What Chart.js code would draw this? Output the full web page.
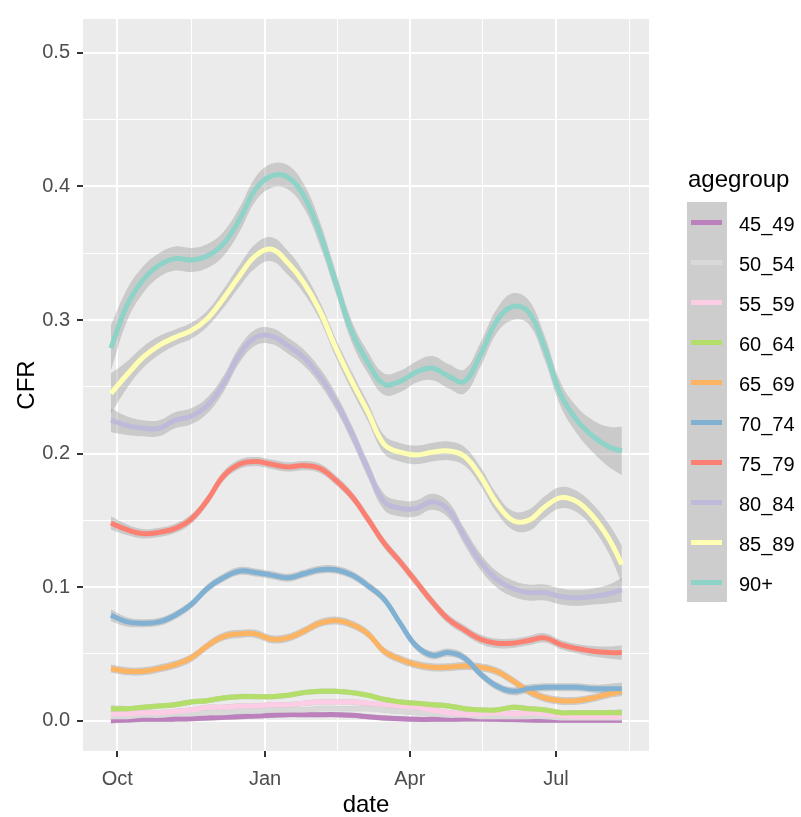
<!DOCTYPE html>
<html>
<head>
<meta charset="utf-8">
<script src="https://cdn.jsdelivr.net/npm/chart.js@4.4.0/dist/chart.umd.min.js"></script>
<style>
  body { margin: 0; background: #fff; font-family: "Liberation Sans", Arial, sans-serif; }
  #wrap { position: relative; width: 801px; height: 817px; }
  #legend .ttl { position: absolute; left: 688px; top: 167px; font-size: 24px; line-height: 24px; color: #000; }
  #legend .keys { position: absolute; left: 687px; top: 202px; width: 40px; height: 400px; background: #CDCDCD; }
  #legend .row { position: absolute; left: 0; width: 801px; height: 40px; }
  #legend .key { position: absolute; left: 691px; top: 17.5px; width: 31px; height: 5px; }
  #legend .lab { position: absolute; left: 739px; top: 1.5px; font-size: 20px; line-height: 40px; color: #000; }
</style>
</head>
<body>
<div id="wrap">
  <canvas id="chart" width="801" height="817"></canvas>
  <div id="legend"></div>
</div>
<script>
// sample dates of the smoothed curves
const dates = ['2020-09-27', '2020-10-07', '2020-10-17', '2020-10-27', '2020-11-06', '2020-11-16',
  '2020-11-26', '2020-12-06', '2020-12-16', '2020-12-26', '2021-01-05', '2021-01-15', '2021-01-25',
  '2021-02-04', '2021-02-14', '2021-02-24', '2021-03-06', '2021-03-16', '2021-03-26', '2021-04-05',
  '2021-04-15', '2021-04-25', '2021-05-05', '2021-05-15', '2021-05-25', '2021-06-04', '2021-06-14',
  '2021-06-24', '2021-07-04', '2021-07-14', '2021-07-24', '2021-08-03', '2021-08-11']

const groups = ['45_49', '50_54', '55_59', '60_64', '65_69', '70_74', '75_79', '80_84', '85_89', '90+']
const colors = ['#BC80BD', '#D9D9D9', '#FCCDE5', '#B3DE69', '#FDB462', '#80B1D3', '#FB8072', '#BEBADA', '#FFFFB3', '#8DD3C7']

const cfr45_49 = [0.000, 0.0005, 0.001, 0.001, 0.0012, 0.0015, 0.002, 0.0025, 0.003, 0.0035, 0.004, 0.0045, 0.0045,
  0.0045, 0.0045, 0.004, 0.003, 0.002, 0.0015, 0.001, 0.001, 0.001, 0.0012, 0.0012, 0.001, 0.0008, 0.0005,
  0.0003, 0.0003, 0.0003, 0.0003, 0.0003, 0.0003]
const cfr50_54 = [0.003, 0.003, 0.004, 0.004, 0.005, 0.005, 0.006, 0.006, 0.007, 0.007, 0.008, 0.008, 0.008,
  0.009, 0.009, 0.009, 0.009, 0.008, 0.007, 0.006, 0.005, 0.004, 0.004, 0.003, 0.003, 0.003, 0.003,
  0.003, 0.002, 0.002, 0.002, 0.002, 0.002]
const cfr55_59 = [0.005, 0.005, 0.006, 0.006, 0.007, 0.008, 0.010, 0.010, 0.011, 0.011, 0.012, 0.012, 0.013,
  0.014, 0.014, 0.014, 0.013, 0.012, 0.011, 0.010, 0.008, 0.006, 0.005, 0.005, 0.006, 0.005, 0.006,
  0.005, 0.004, 0.003, 0.003, 0.003, 0.003]
const cfr60_64 = [0.009, 0.009, 0.010, 0.011, 0.012, 0.014, 0.015, 0.017, 0.018, 0.018, 0.018, 0.019, 0.021,
  0.022, 0.022, 0.021, 0.019, 0.016, 0.014, 0.013, 0.012, 0.011, 0.009, 0.008, 0.008, 0.010, 0.009,
  0.008, 0.006, 0.006, 0.006, 0.006, 0.006]
const cfr65_69 = [0.039, 0.037, 0.037, 0.039, 0.042, 0.047, 0.056, 0.063, 0.065, 0.065, 0.061, 0.062, 0.067,
  0.073, 0.075, 0.072, 0.065, 0.052, 0.046, 0.042, 0.040, 0.040, 0.041, 0.040, 0.037, 0.030, 0.022,
  0.017, 0.015, 0.015, 0.017, 0.020, 0.022]
const cfr70_74 = [0.079, 0.074, 0.073, 0.074, 0.079, 0.087, 0.099, 0.107, 0.112, 0.111, 0.109, 0.107, 0.110,
  0.113, 0.113, 0.109, 0.101, 0.091, 0.073, 0.056, 0.049, 0.051, 0.047, 0.035, 0.026, 0.022, 0.024,
  0.025, 0.025, 0.025, 0.024, 0.024, 0.024]
const cfr75_79 = [0.148, 0.143, 0.140, 0.141, 0.144, 0.151, 0.165, 0.183, 0.192, 0.194, 0.192, 0.190, 0.191,
  0.189, 0.180, 0.168, 0.151, 0.133, 0.119, 0.104, 0.089, 0.076, 0.068, 0.061, 0.058, 0.058, 0.060,
  0.062, 0.057, 0.054, 0.052, 0.051, 0.051]
const cfr80_84 = [0.225, 0.221, 0.219, 0.219, 0.225, 0.228, 0.236, 0.252, 0.274, 0.287, 0.288, 0.281, 0.272,
  0.258, 0.239, 0.215, 0.188, 0.164, 0.159, 0.159, 0.164, 0.158, 0.138, 0.119, 0.106, 0.099, 0.096,
  0.096, 0.093, 0.092, 0.093, 0.095, 0.098]
const cfr85_89 = [0.245, 0.259, 0.272, 0.281, 0.287, 0.292, 0.301, 0.316, 0.333, 0.348, 0.353, 0.343, 0.328,
  0.307, 0.279, 0.254, 0.231, 0.207, 0.201, 0.199, 0.201, 0.202, 0.198, 0.183, 0.163, 0.150, 0.150,
  0.160, 0.167, 0.164, 0.153, 0.136, 0.117]
const cfr90 = [0.279, 0.311, 0.330, 0.341, 0.346, 0.345, 0.348, 0.357, 0.375, 0.398, 0.408, 0.407, 0.393,
  0.365, 0.328, 0.291, 0.268, 0.252, 0.254, 0.261, 0.264, 0.258, 0.254, 0.274, 0.299, 0.310, 0.306,
  0.279, 0.244, 0.225, 0.213, 0.205, 0.202]

// half widths of the grey confidence bands
const se45_49 = [0.002, 0.002, 0.002, 0.002, 0.002, 0.002, 0.002, 0.002, 0.002, 0.002, 0.002, 0.002, 0.002,
  0.002, 0.002, 0.002, 0.002, 0.002, 0.002, 0.002, 0.002, 0.002, 0.002, 0.002, 0.002, 0.002, 0.002,
  0.002, 0.002, 0.002, 0.002, 0.002, 0.002]
const se50_54 = [0.002, 0.002, 0.002, 0.002, 0.002, 0.002, 0.002, 0.002, 0.002, 0.002, 0.002, 0.002, 0.002,
  0.002, 0.002, 0.002, 0.002, 0.002, 0.002, 0.002, 0.002, 0.002, 0.002, 0.002, 0.002, 0.002, 0.002,
  0.002, 0.002, 0.002, 0.002, 0.002, 0.002]
const se55_59 = [0.002, 0.002, 0.002, 0.002, 0.002, 0.002, 0.002, 0.002, 0.002, 0.002, 0.002, 0.002, 0.002,
  0.002, 0.002, 0.002, 0.002, 0.002, 0.002, 0.002, 0.002, 0.002, 0.002, 0.002, 0.002, 0.002, 0.002,
  0.002, 0.002, 0.002, 0.002, 0.002, 0.002]
const se60_64 = [0.0025, 0.002, 0.002, 0.002, 0.002, 0.002, 0.002, 0.002, 0.002, 0.002, 0.002, 0.002, 0.002,
  0.002, 0.002, 0.002, 0.002, 0.002, 0.002, 0.002, 0.002, 0.002, 0.002, 0.002, 0.002, 0.002, 0.002,
  0.002, 0.002, 0.002, 0.002, 0.002, 0.0025]
const se65_69 = [0.003, 0.003, 0.003, 0.003, 0.003, 0.003, 0.003, 0.003, 0.003, 0.003, 0.003, 0.003, 0.003,
  0.003, 0.003, 0.003, 0.003, 0.003, 0.003, 0.003, 0.003, 0.003, 0.003, 0.003, 0.003, 0.003, 0.003,
  0.003, 0.003, 0.003, 0.003, 0.003, 0.0035]
const se70_74 = [0.0045, 0.0035, 0.003, 0.003, 0.003, 0.003, 0.003, 0.003, 0.003, 0.003, 0.003, 0.003, 0.003,
  0.003, 0.003, 0.003, 0.003, 0.003, 0.003, 0.003, 0.003, 0.003, 0.003, 0.003, 0.003, 0.003, 0.003,
  0.003, 0.003, 0.003, 0.003, 0.0035, 0.0045]
const se75_79 = [0.005, 0.004, 0.0035, 0.0035, 0.0035, 0.0035, 0.0035, 0.0035, 0.0035, 0.0035, 0.0035, 0.0035, 0.0035,
  0.0035, 0.0035, 0.0035, 0.0035, 0.0035, 0.0035, 0.0035, 0.0035, 0.0035, 0.0035, 0.0035, 0.0035, 0.0035, 0.0035,
  0.0035, 0.0035, 0.0035, 0.004, 0.0045, 0.0055]
const se80_84 = [0.009, 0.007, 0.006, 0.006, 0.006, 0.006, 0.006, 0.006, 0.006, 0.006, 0.006, 0.006, 0.006,
  0.006, 0.006, 0.006, 0.006, 0.006, 0.006, 0.006, 0.006, 0.006, 0.006, 0.006, 0.006, 0.006, 0.006,
  0.006, 0.006, 0.006, 0.006, 0.007, 0.009]
const se85_89 = [0.015, 0.010, 0.008, 0.007, 0.006, 0.006, 0.006, 0.007, 0.008, 0.009, 0.009, 0.009, 0.008,
  0.007, 0.007, 0.007, 0.007, 0.007, 0.007, 0.007, 0.007, 0.007, 0.007, 0.007, 0.007, 0.007, 0.008,
  0.008, 0.008, 0.008, 0.009, 0.011, 0.014]
const se90 = [0.017, 0.012, 0.010, 0.009, 0.009, 0.009, 0.009, 0.009, 0.009, 0.009, 0.009, 0.009, 0.009,
  0.009, 0.008, 0.008, 0.008, 0.008, 0.008, 0.008, 0.009, 0.009, 0.009, 0.009, 0.009, 0.010, 0.009,
  0.009, 0.009, 0.010, 0.012, 0.015, 0.018]

const series = [cfr45_49, cfr50_54, cfr55_59, cfr60_64, cfr65_69, cfr70_74, cfr75_79, cfr80_84, cfr85_89, cfr90]
const bands = [se45_49, se50_54, se55_59, se60_64, se65_69, se70_74, se75_79, se80_84, se85_89, se90]

// axis breaks
const xMajorDates = ['2020-10-01', '2021-01-01', '2021-04-01', '2021-07-01']
const xMajorLabels = ['Oct', 'Jan', 'Apr', 'Jul']
const xMinorDates = ['2020-11-16', '2021-02-15', '2021-05-16', '2021-08-16']
const yMajor = [0, 0.1, 0.2, 0.3, 0.4, 0.5]
const yMinor = [0.05, 0.15, 0.25, 0.35, 0.45]

const origin = Date.parse('2020-10-01')
const dayOf = s => (Date.parse(s) - origin) / 864e5
const xs = dates.map(dayOf)
const xMajor = xMajorDates.map(dayOf)
const xMinor = xMinorDates.map(dayOf)
const pts = vals => vals.map((v, i) => ({ x: xs[i], y: v }))

const font = 'Liberation Sans, Arial, sans-serif'
const bandFill = 'rgba(153,153,153,0.4)'

let datasets = []
groups.forEach((g, i) => {
  const v = series[i], e = bands[i]
  const common = { pointRadius: 0, pointHoverRadius: 0, tension: 0.4, order: groups.length - i }
  datasets.push({ label: g + ' upper', data: pts(v.map((y, k) => y + e[k])), borderWidth: 0,
    borderColor: 'transparent', fill: false, ...common })
  datasets.push({ label: g + ' lower', data: pts(v.map((y, k) => y - e[k])), borderWidth: 0,
    borderColor: 'transparent', backgroundColor: bandFill, fill: '-1', ...common })
  datasets.push({ label: g, data: pts(v), borderColor: colors[i], borderWidth: 5,
    borderCapStyle: 'butt', fill: false, ...common })
})

const panelBg = {
  id: 'panelBg',
  beforeDraw(chart) {
    const { ctx, chartArea: a } = chart
    ctx.save()
    ctx.fillStyle = '#EBEBEB'
    ctx.fillRect(a.left, a.top, a.right - a.left, a.bottom - a.top)
    ctx.restore()
  }
}

const isMajorX = v => xMajor.includes(v)
const isMajorY = v => yMajor.includes(v)

let ctx = document.getElementById('chart').getContext('2d')
new Chart(ctx, {
  type: 'line',
  data: { datasets },
  plugins: [panelBg],
  options: {
    responsive: false,
    animation: false,
    devicePixelRatio: 1,
    layout: { padding: { left: 0, right: 152, top: 10, bottom: 0 } },
    plugins: {
      legend: { display: false },
      tooltip: { enabled: false },
      filler: { drawTime: 'beforeDatasetsDraw' }
    },
    scales: {
      x: {
        type: 'linear',
        min: -21.34,
        max: 330.9,
        afterBuildTicks: s => { s.ticks = xMajor.concat(xMinor).map(v => ({ value: v })) },
        afterFit: s => { s.height = 66 },
        ticks: {
          autoSkip: false, maxRotation: 0, padding: 10, color: '#4D4D4D',
          font: { family: font, size: 20 },
          callback: v => isMajorX(v) ? xMajorLabels[xMajor.indexOf(v)] : ''
        },
        grid: {
          color: '#FFFFFF',
          lineWidth: c => isMajorX(c.tick.value) ? 2 : 1,
          tickLength: 6,
          tickWidth: 2,
          tickColor: c => isMajorX(c.tick.value) ? '#333333' : 'rgba(0,0,0,0)'
        },
        border: { display: false },
        title: { display: true, text: 'date', color: '#000', font: { family: font, size: 24, lineHeight: 1 },
          padding: { top: 0, bottom: 0 } }
      },
      y: {
        min: -0.0227,
        max: 0.5254,
        afterBuildTicks: s => { s.ticks = yMajor.concat(yMinor).map(v => ({ value: v })) },
        afterFit: s => { s.width = 83 },
        ticks: {
          padding: 7, color: '#4D4D4D',
          font: { family: font, size: 20 },
          callback: v => isMajorY(v) ? v.toFixed(1) : ''
        },
        grid: {
          color: '#FFFFFF',
          lineWidth: c => isMajorY(c.tick.value) ? 2 : 1,
          tickLength: 6,
          tickWidth: 2,
          tickColor: c => isMajorY(c.tick.value) ? '#333333' : 'rgba(0,0,0,0)'
        },
        border: { display: false },
        title: { display: true, text: 'CFR', color: '#000', font: { family: font, size: 24, lineHeight: 1 },
          padding: { top: 15, bottom: 0 } }
      }
    }
  }
})

// legend in ggplot style, built from the same group and colour lists
const leg = document.getElementById('legend')
leg.innerHTML = '<div class="ttl">agegroup</div><div class="keys"></div>' +
  groups.map((g, i) => `<div class="row" style="top:${202 + 40 * i}px">` +
    `<span class="key" style="background:${colors[i]}"></span><span class="lab">${g}</span></div>`).join('')
</script>
</body>
</html>
